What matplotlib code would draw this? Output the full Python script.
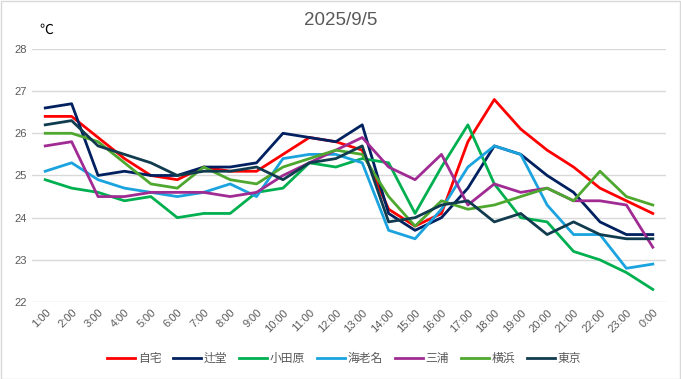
import matplotlib
matplotlib.use("Agg")
import matplotlib.pyplot as plt

plt.rcParams['font.family'] = ['Noto Sans CJK JP', 'DejaVu Sans']

# hourly temperatures, 2025/9/5
hours = [f"{h}:00" for h in range(1, 24)] + ["0:00"]

jitaku = [26.4, 26.4, 25.9, 25.4, 25.0, 24.9, 25.2, 25.1, 25.1, 25.5, 25.9, 25.8,
          25.6, 24.2, 23.8, 24.1, 25.8, 26.8, 26.1, 25.6, 25.2, 24.7, 24.4, 24.1]
tsujido = [26.6, 26.7, 25.0, 25.1, 25.0, 25.0, 25.2, 25.2, 25.3, 26.0, 25.9, 25.8,
           26.2, 24.1, 23.7, 24.0, 24.7, 25.7, 25.5, 25.0, 24.6, 23.9, 23.6, 23.6]
odawara = [24.9, 24.7, 24.6, 24.4, 24.5, 24.0, 24.1, 24.1, 24.6, 24.7, 25.3, 25.2,
           25.4, 25.3, 24.1, 25.2, 26.2, 24.8, 24.0, 23.9, 23.2, 23.0, 22.7, 22.3]
ebina = [25.1, 25.3, 24.9, 24.7, 24.6, 24.5, 24.6, 24.8, 24.5, 25.4, 25.5, 25.5,
         25.3, 23.7, 23.5, 24.2, 25.2, 25.7, 25.5, 24.3, 23.6, 23.6, 22.8, 22.9]
miura = [25.7, 25.8, 24.5, 24.5, 24.6, 24.6, 24.6, 24.5, 24.6, 25.0, 25.3, 25.6,
         25.9, 25.2, 24.9, 25.5, 24.3, 24.8, 24.6, 24.7, 24.4, 24.4, 24.3, 23.3]
yokohama = [26.0, 26.0, 25.8, 25.3, 24.8, 24.7, 25.2, 24.9, 24.8, 25.2, 25.4, 25.6,
            25.5, 24.5, 23.8, 24.4, 24.2, 24.3, 24.5, 24.7, 24.4, 25.1, 24.5, 24.3]
tokyo = [26.2, 26.3, 25.7, 25.5, 25.3, 25.0, 25.1, 25.1, 25.2, 24.9, 25.3, 25.4,
         25.7, 23.9, 24.0, 24.3, 24.4, 23.9, 24.1, 23.6, 23.9, 23.6, 23.5, 23.5]

series = [
    ("自宅", jitaku, "#FF0000"),
    ("辻堂", tsujido, "#002060"),
    ("小田原", odawara, "#00B050"),
    ("海老名", ebina, "#1AA3DE"),
    ("三浦", miura, "#A02B93"),
    ("横浜", yokohama, "#4EA72E"),
    ("東京", tokyo, "#113B4E"),
]

fig = plt.figure(figsize=(6.81, 3.79), dpi=100)
ax = fig.add_axes([0.047, 0.203, 0.931, 0.668])

x = list(range(len(hours)))
for name, vals, col in series:
    ax.plot(x, vals, color=col, linewidth=2.0, label=name, solid_joinstyle="round")

ax.set_xlim(-0.5, len(hours) - 0.5)
ax.set_ylim(22, 28)
ax.set_yticks(range(22, 29))
ax.set_yticklabels([str(v) for v in range(22, 29)], family=["Liberation Sans"])
ax.yaxis.grid(True, color="#D9D9D9", linewidth=1.0)
ax.set_axisbelow(True)
for s in ax.spines.values():
    s.set_visible(False)
ax.tick_params(axis="both", length=0, colors="#595959", labelsize=8)
ax.set_xticks(x)
ax.set_xticklabels(hours, rotation=45, ha="right", va="top",
                   rotation_mode="anchor", family=["Liberation Sans"])
ax.tick_params(axis="x", pad=4)

fig.text(0.5, 0.945, "2025/9/5", ha="center", va="center", fontsize=13.5,
         color="#595959", family=["Liberation Sans"])
fig.text(0.058, 0.92, "℃", ha="left", va="center", fontsize=10, color="black")

fig.legend(loc="center", bbox_to_anchor=(0.505, 0.055), ncol=7, frameon=False,
           fontsize=8.5, handlelength=2.4, columnspacing=1.0, handletextpad=0.2,
           labelcolor="#595959")

# light frame like the chart area border
fig.patches.append(plt.Rectangle((0.001, 0.001), 0.998, 0.997, transform=fig.transFigure,
                                 fill=False, edgecolor="#D9D9D9", linewidth=1))

fig.savefig("out.png", dpi=100)
